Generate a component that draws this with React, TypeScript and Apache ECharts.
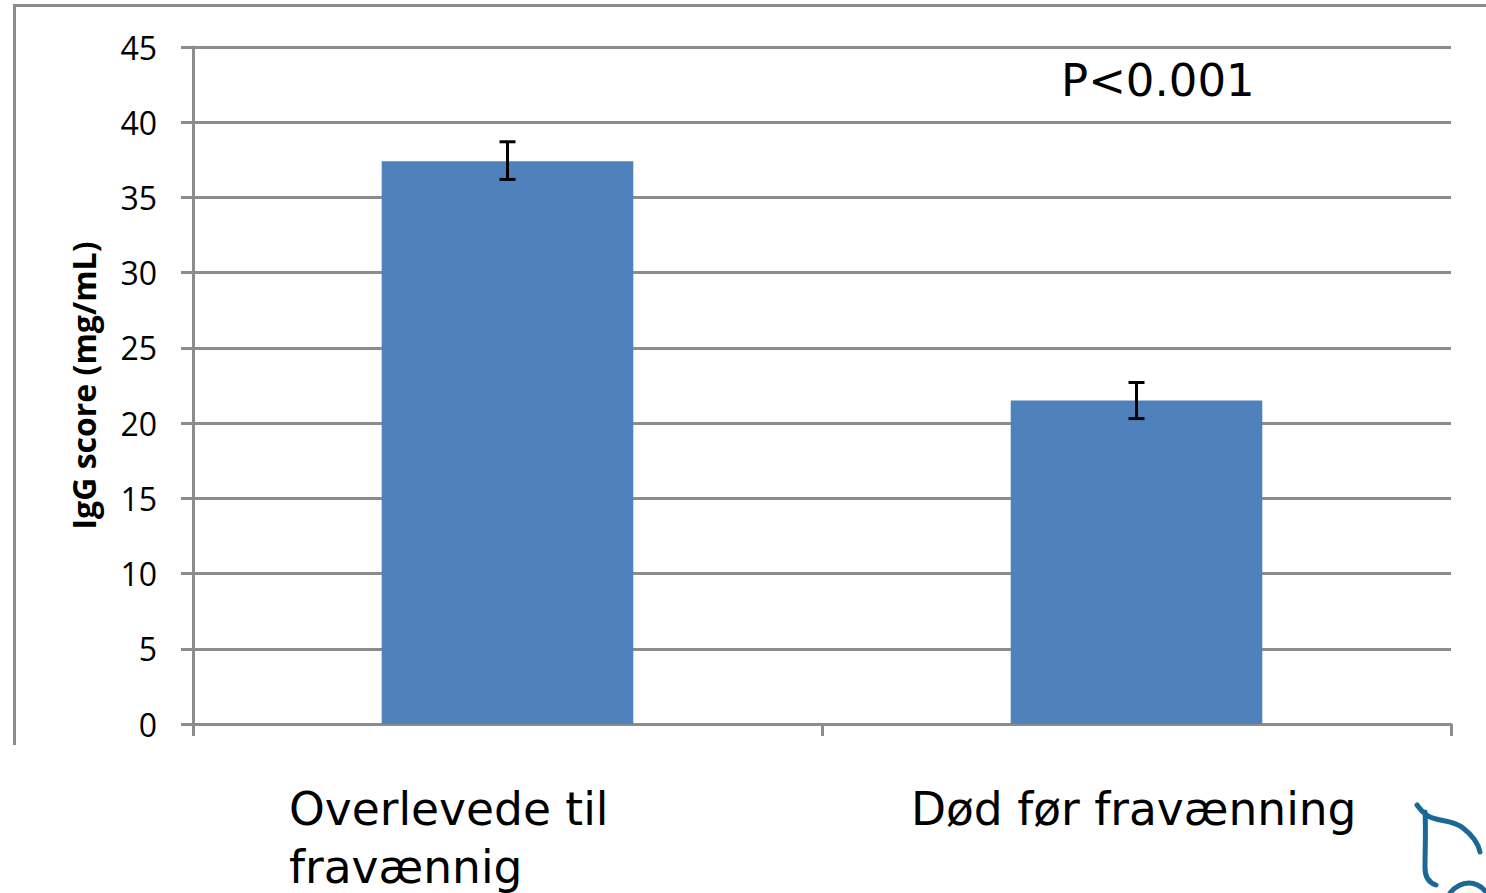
import React, { useEffect, useRef } from "react";
import * as echarts from "echarts";

const categories = ["Overlevede til\nfravænnig", "Død før fravænning"];
const labelLeft = [289, 911];
const means = [37.4, 21.5];
const errLow = [36.2, 20.3];
const errHigh = [38.7, 22.7];
const annotation = "P<0.001";
const yTitle = "IgG score (mg/mL)";

const GREY = "#8c8c8c";

echarts.graphic.registerShape(
  "scribble",
  echarts.graphic.extendPath(
    "M1417 805 C1421 811 1425 814 1428 816 C1438 822 1452 819 1463 828 C1472 835 1478 842 1480 852 M1425 812 C1426 830 1425 850 1425 868 C1425 878 1430 883 1436 885 M1450 893 C1455 887 1462 883 1469 883 C1476 883 1482 887 1486 892",
    {}
  )
);

export default function App() {
  const ref = useRef<HTMLDivElement>(null);
  useEffect(() => {
    document.body.style.margin = "0";
    const chart = echarts.init(ref.current!, undefined, { renderer: "svg" });
    chart.setOption({
      animation: false,
      backgroundColor: "#ffffff",
      grid: { left: 193, right: 35, top: 47, bottom: 169, containLabel: false },
      xAxis: {
        type: "category",
        data: categories,
        axisLine: { lineStyle: { color: GREY, width: 3 } },
        axisTick: { show: true, length: 12, alignWithLabel: false, lineStyle: { color: GREY, width: 3 } },
        axisLabel: { show: false },
        splitLine: { show: false },
      },
      yAxis: {
        type: "value",
        min: 0,
        max: 45,
        interval: 5,
        name: yTitle,
        nameLocation: "middle",
        nameGap: 94,
        nameTextStyle: { fontFamily: "Open Sans", fontWeight: "bold", fontSize: 32, color: "#000" },
        axisLine: { show: true, lineStyle: { color: GREY, width: 3 } },
        axisTick: { show: true, length: 12, lineStyle: { color: GREY, width: 3 } },
        axisLabel: { fontFamily: "Open Sans", fontSize: 32, color: "#000", margin: 36, padding: [0, 0, 4, 0] },
        splitLine: { show: true, lineStyle: { color: GREY, width: 3 } },
      },
      series: [
        {
          type: "bar",
          data: means,
          barWidth: "40%",
          itemStyle: { color: "#4f81bd" },
          z: 3,
        },
        {
          type: "custom",
          data: categories.map((_, i) => [i, errLow[i], errHigh[i]]),
          encode: { x: 0, y: [1, 2] },
          z: 4,
          renderItem: (_p: any, api: any) => {
            const lo = api.coord([api.value(0), api.value(1)]);
            const hi = api.coord([api.value(0), api.value(2)]);
            const style = { stroke: "#000", lineWidth: 3 };
            const cap = 8;
            return {
              type: "group",
              children: [
                { type: "line", shape: { x1: lo[0], y1: lo[1], x2: hi[0], y2: hi[1] }, style },
                { type: "line", shape: { x1: lo[0] - cap, y1: lo[1], x2: lo[0] + cap, y2: lo[1] }, style },
                { type: "line", shape: { x1: hi[0] - cap, y1: hi[1], x2: hi[0] + cap, y2: hi[1] }, style },
              ],
            };
          },
        },
      ],
      graphic: [
        {
          type: "polyline",
          shape: { points: [[14.5, 745], [14.5, 5.5], [1486, 5.5]] },
          style: { stroke: GREY, lineWidth: 3, fill: "none" },
        },
        {
          type: "text",
          x: 1061,
          y: 58,
          style: { text: annotation, font: '45px "DejaVu Sans"', fill: "#000" },
        },
        ...categories.map((c, i) => ({
          type: "text",
          x: labelLeft[i],
          y: 780,
          style: { text: c, font: '45.5px "DejaVu Sans"', fill: "#000", lineHeight: 58 },
        })),
        {
          type: "scribble",
          x: 0,
          y: 0,
          style: { stroke: "#1a6896", lineWidth: 5, fill: "none", lineCap: "round" },
        },
      ],
    });
    return () => chart.dispose();
  }, []);
  return <div ref={ref} style={{ width: 1486, height: 893, position: "absolute", left: 0, top: 0 }} />;
}
